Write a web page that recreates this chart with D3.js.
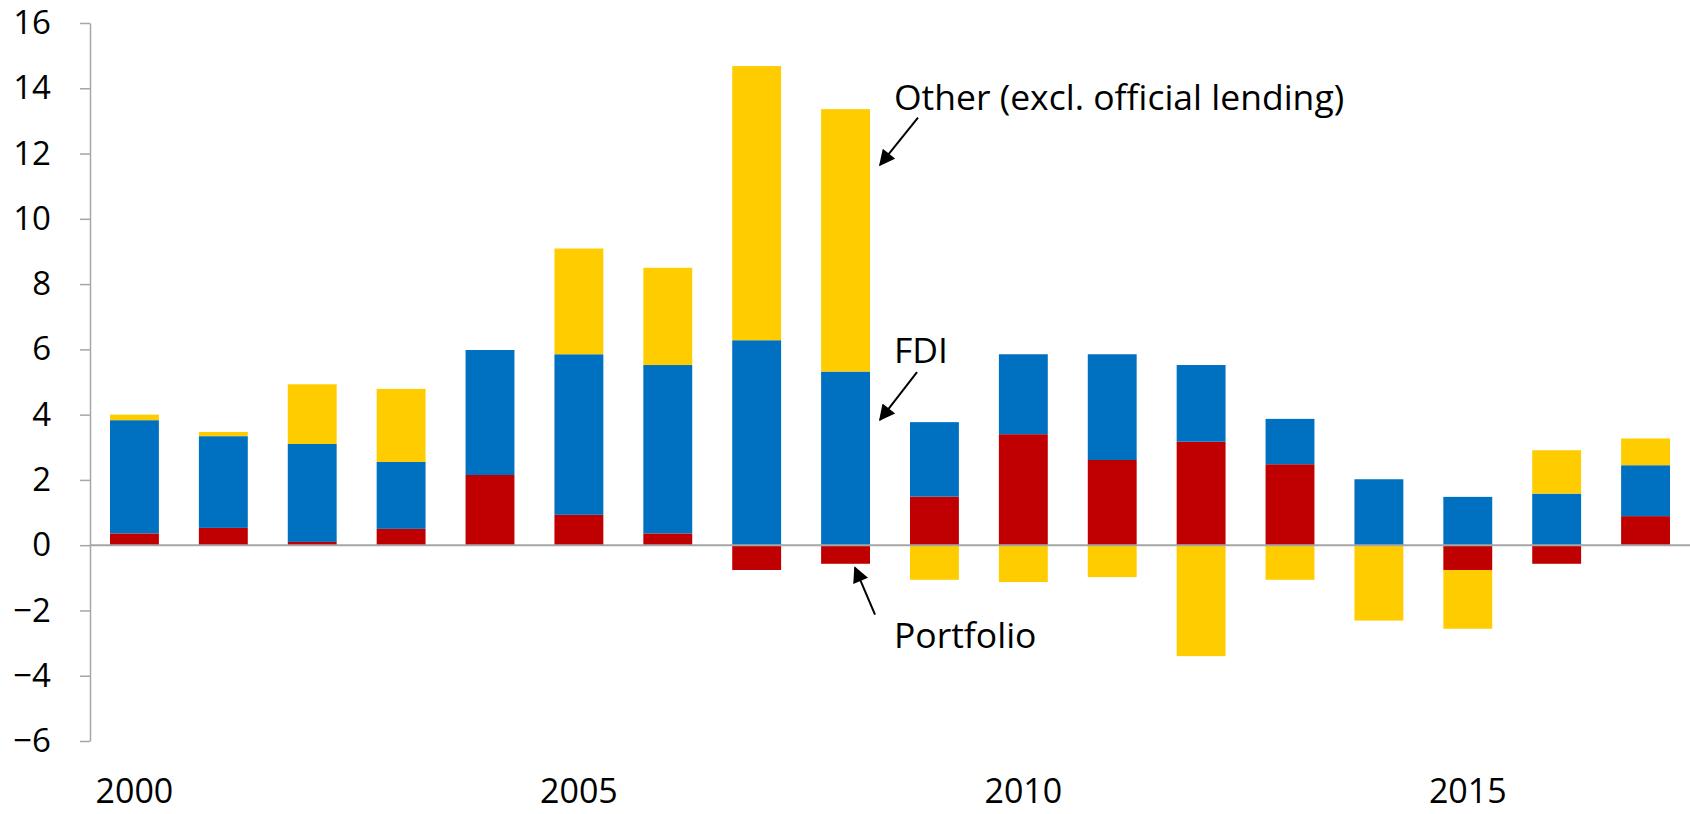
<!DOCTYPE html>
<html>
<head>
<meta charset="utf-8">
<script src="https://cdn.jsdelivr.net/npm/d3@7"></script>
<style>
  body { margin: 0; background: #fff; }
  svg text { font-family: "Open Sans", "Noto Sans", sans-serif; fill: #000; }
</style>
</head>
<body>
<svg width="1690" height="814"></svg>
<script>
// data
var years = d3.range(2000, 2018);
var portfolio = [0.36, 0.53, 0.10, 0.50, 2.15, 0.93, 0.36, -0.76, -0.57, 1.49, 3.40, 2.61, 3.17, 2.48, 0.0, -0.76, -0.57, 0.89];
var fdi = [3.47, 2.81, 3.00, 2.05, 3.83, 4.92, 5.16, 6.28, 5.32, 2.28, 2.45, 3.24, 2.35, 1.39, 2.02, 1.48, 1.58, 1.56];
var other = [0.17, 0.13, 1.83, 2.24, 0.0, 3.24, 2.98, 8.40, 8.04, -1.06, -1.13, -0.98, -3.40, -1.06, -2.31, -1.80, 1.33, 0.82];
var yTicks = [-6, -4, -2, 0, 2, 4, 6, 8, 10, 12, 14, 16];
var xLabels = [2000, 2005, 2010, 2015];

var keys = ["Portfolio", "FDI", "Other"];
var colors = {Portfolio: "#C00000", FDI: "#0070C0", Other: "#FFCC00"};

// annotations: arrow tip / tail and text baseline in data units, next to the 2008 bar
var notes = [
  {text: "Other (excl. official lending)", tip: 11.65, tail: 13.1, textY: 13.33, dxTip: 10, dxTail: 48, dxText: 24},
  {text: "FDI", tip: 3.84, tail: 5.3, textY: 5.59, dxTip: 10, dxTail: 47, dxText: 24},
  {text: "Portfolio", tip: -0.69, tail: -2.13, textY: -3.15, dxTip: -15, dxTail: 5, dxText: 24}
];

var table = years.map(function(y, i) {
  return {year: y, Portfolio: portfolio[i], FDI: fdi[i], Other: other[i]};
});

var svg = d3.select("svg");
var W = 1690, H = 814;
var margin = {left: 90, right: 0, top: 23, bottom: 73};

var x = d3.scaleBand()
  .domain(years)
  .range([margin.left, W - margin.right])
  .paddingInner(0.45)
  .paddingOuter(0.225);

var y = d3.scaleLinear()
  .domain([-6, 16])
  .range([H - margin.bottom, margin.top]);

var series = d3.stack()
  .keys(keys)
  .offset(d3.stackOffsetDiverging)(table);

svg.append("g")
  .selectAll("g")
  .data(series)
  .enter()
  .append("g")
  .attr("fill", function(d) { return colors[d.key]; })
  .selectAll("rect")
  .data(function(d) { return d; })
  .enter()
  .append("rect")
  .attr("x", function(d) { return x(d.data.year); })
  .attr("width", x.bandwidth())
  .attr("y", function(d) { return y(Math.max(d[0], d[1])); })
  .attr("height", function(d) { return Math.abs(y(d[0]) - y(d[1])); });

// y axis
var yAxis = svg.append("g")
  .attr("transform", "translate(" + margin.left + ",0)")
  .call(d3.axisLeft(y).tickValues(yTicks).tickSize(10).tickPadding(29).tickSizeOuter(0));
yAxis.select(".domain").attr("stroke", "#A6A6A6").attr("stroke-width", 1.5);
yAxis.selectAll(".tick line").attr("stroke", "#A6A6A6").attr("stroke-width", 1.5);
yAxis.selectAll(".tick text")
  .attr("font-size", 33)
  .attr("font-family", "'Open Sans', 'Noto Sans', sans-serif")
  .attr("fill", "#000");

// zero line
svg.append("line")
  .attr("x1", margin.left)
  .attr("x2", W)
  .attr("y1", y(0))
  .attr("y2", y(0))
  .attr("stroke", "#A6A6A6")
  .attr("stroke-width", 2);

// x labels
svg.append("g")
  .selectAll("text")
  .data(xLabels)
  .enter()
  .append("text")
  .attr("x", function(d) { return x(d) + x.bandwidth() / 2; })
  .attr("y", H - 11)
  .attr("text-anchor", "middle")
  .attr("font-size", 34)
  .text(function(d) { return d; });

// arrowhead
svg.append("defs").append("marker")
  .attr("id", "head")
  .attr("viewBox", "0 0 10 10")
  .attr("refX", 9)
  .attr("refY", 5)
  .attr("markerWidth", 9)
  .attr("markerHeight", 8)
  .attr("markerUnits", "strokeWidth")
  .attr("orient", "auto")
  .append("path")
  .attr("d", "M0,0 L10,5 L0,10 Z")
  .attr("fill", "#000");

var edge = x(2008) + x.bandwidth();
var ann = svg.append("g");
notes.forEach(function(n) {
  ann.append("line")
    .attr("x1", edge + n.dxTail)
    .attr("y1", y(n.tail))
    .attr("x2", edge + n.dxTip)
    .attr("y2", y(n.tip))
    .attr("stroke", "#000")
    .attr("stroke-width", 2)
    .attr("marker-end", "url(#head)");
  ann.append("text")
    .attr("x", edge + n.dxText)
    .attr("y", y(n.textY))
    .attr("font-size", 35.5)
    .text(n.text);
});
</script>
</body>
</html>
